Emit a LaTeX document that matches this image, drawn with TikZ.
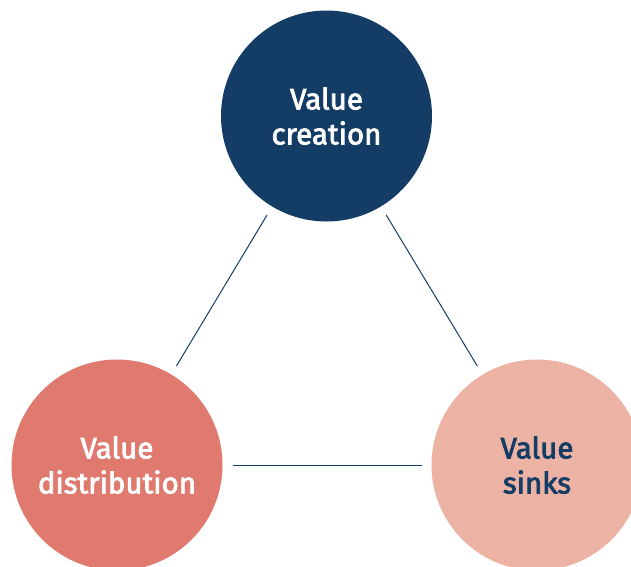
\documentclass[tikz,border=0pt]{standalone}
\usepackage{fontspec}
\setmainfont{Fira Sans}
\newfontfamily\labelfont[FakeBold=2.6]{Fira Sans}
\definecolor{navy}{HTML}{143D66}
\definecolor{coral}{HTML}{E07A6F}
\definecolor{blush}{HTML}{ECB3A5}
\tikzset{
  value/.style={circle, minimum size=211pt, inner sep=0pt, outer sep=0pt,
    align=center, font=\labelfont\fontsize{29.5}{35}\selectfont},
  link/.style={draw=navy, line width=1pt, shorten >=10pt, shorten <=10pt}
}
\begin{document}
\begin{tikzpicture}[x=1pt, y=-1pt]
      \useasboundingbox (0,0) rectangle (631,566);
      \draw
        (326.5,116) node[value, fill=navy, text=white] (creation){Value\\creation}
        (117,465) node[value, fill=coral, text=white] (distribution){Value\\distribution}
        (537,465) node[value, fill=blush, text=navy] (sinks){Value\\sinks};
      \begin{scope}[link]
        \draw (creation) to (distribution);
        \draw (creation) to (sinks);
        \draw (distribution) to (sinks);
      \end{scope}
    \end{tikzpicture}
\end{document}
